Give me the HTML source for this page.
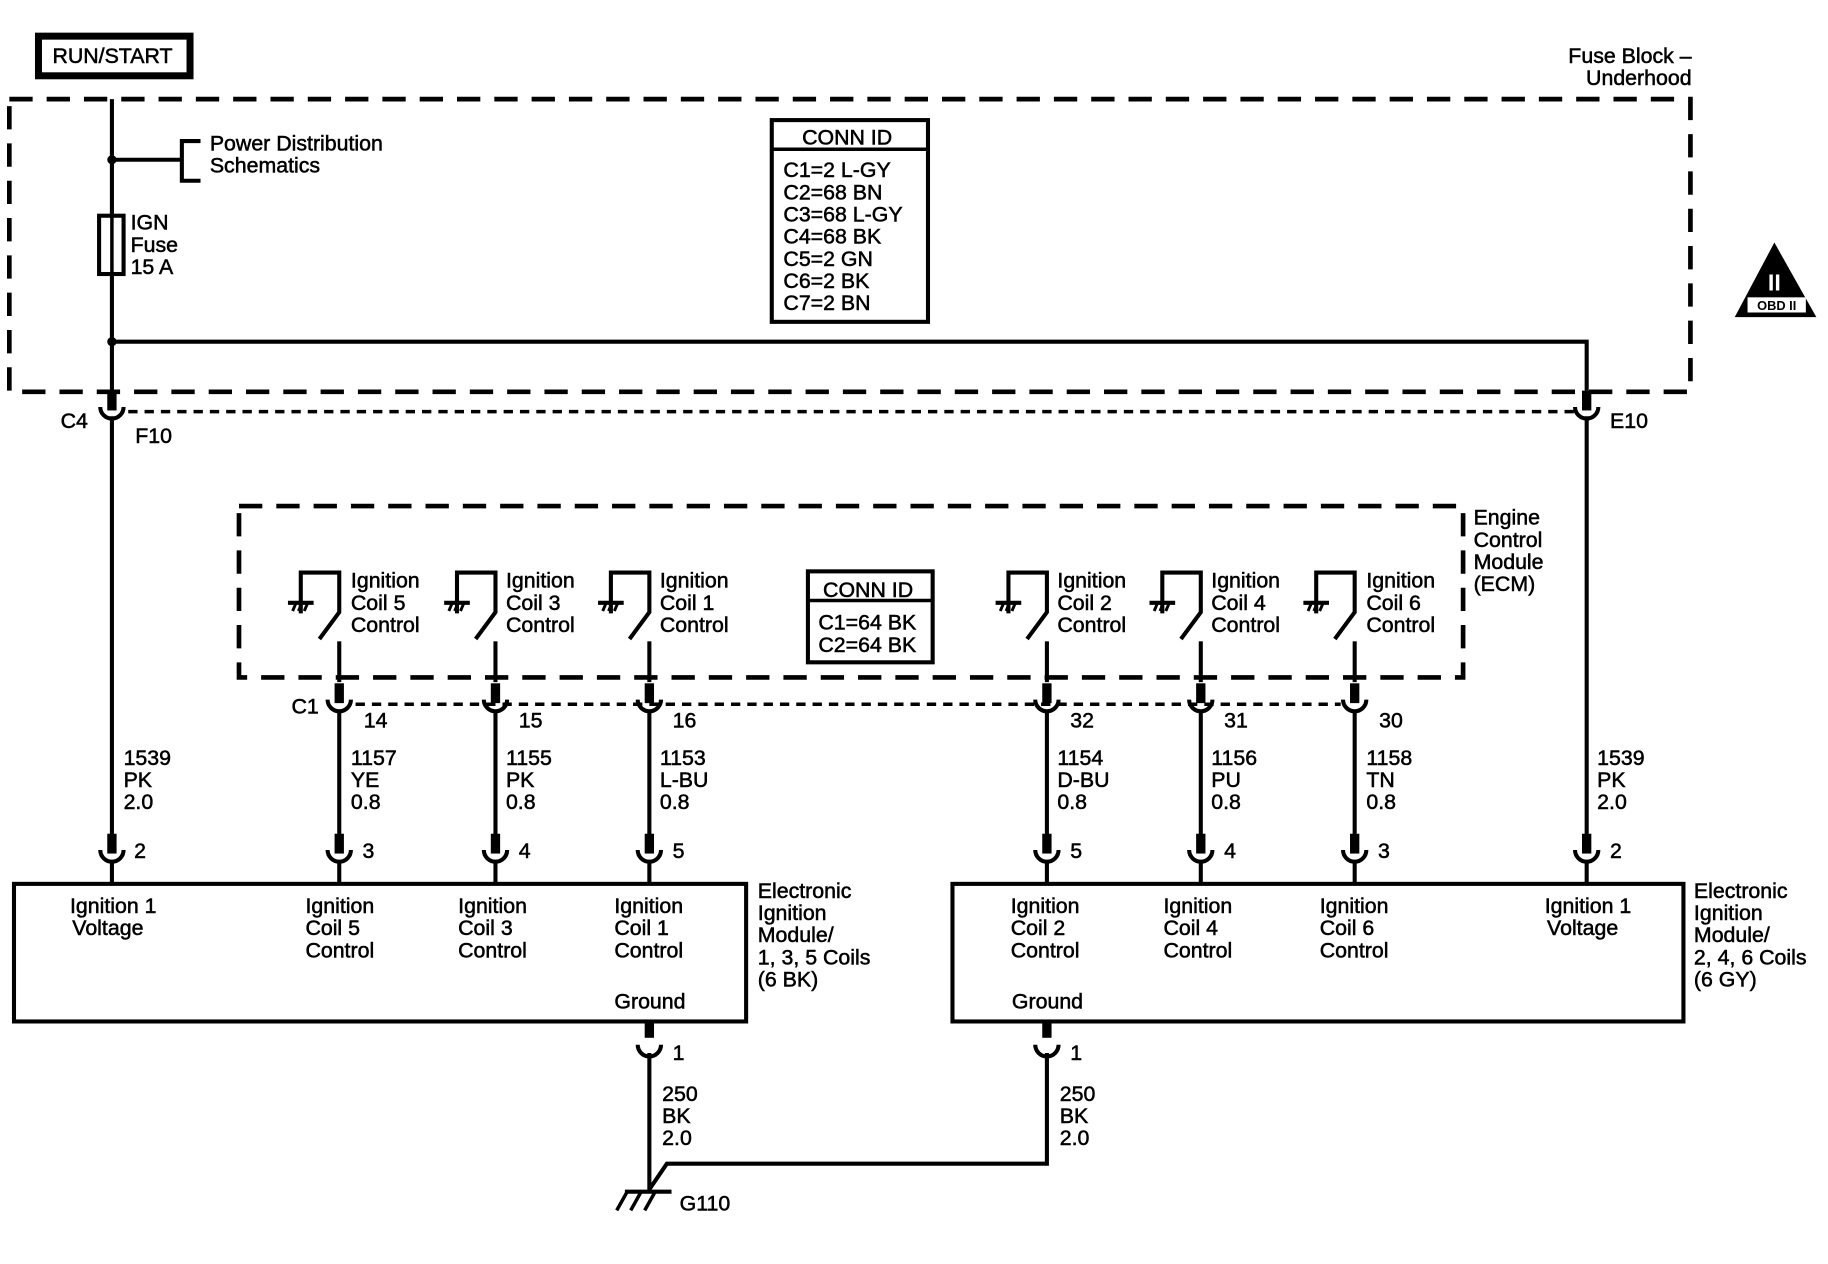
<!DOCTYPE html>
<html><head><meta charset="utf-8"><style>
html,body{margin:0;padding:0;background:#fff}
svg{display:block}
text{font-family:"Liberation Sans",Arial,sans-serif;font-size:18.3px;fill:#000;stroke:#000;stroke-width:0.45px}
</style></head><body>
<svg width="1828" height="1264" viewBox="0 0 1568 1084" preserveAspectRatio="none" xmlns="http://www.w3.org/2000/svg">
<defs>
<g id="cn"><line x1="0" y1="-14" x2="0" y2="3" stroke="#000" stroke-width="8"/><path d="M-10,0 A10,10 0 0 0 10,0" fill="none" stroke="#000" stroke-width="3.5"/></g>
<g id="sw" fill="none" stroke="#000" stroke-width="3.5"><path d="M-33,27 V-8 H0 V26 L-17,49"/><line x1="-44" y1="18" x2="-22" y2="18"/><path d="M-40,25 l3,-7 M-35,25 l3,-7 M-30,25 l3,-7" stroke-width="2.5"/></g>
</defs>
<g fill="none" stroke="#000">
<rect x="33" y="31" width="130" height="34" stroke-width="6"/>
<rect x="8" y="85" width="1442" height="251" stroke-width="4" stroke-dasharray="20,12"/>
<line x1="110" y1="353" x2="1350" y2="353" stroke-width="3" stroke-dasharray="8,6"/>
<line x1="96" y1="85" x2="96" y2="335" stroke-width="3.5"/>
<line x1="96" y1="357" x2="96" y2="722" stroke-width="3.5"/>
<line x1="96" y1="137" x2="156" y2="137" stroke-width="3.5"/>
<path d="M172,121 H156 V155 H172" stroke-width="3.5"/>
<rect x="85" y="185" width="21" height="50" stroke-width="3.5" fill="#fff"/>
<line x1="96" y1="185" x2="96" y2="235" stroke-width="3"/>
<path d="M96,293 H1361 V335" stroke-width="3.5"/>
<line x1="1361" y1="357" x2="1361" y2="722" stroke-width="3.5"/>
<rect x="662" y="103" width="134" height="173" stroke-width="3.5"/>
<line x1="662" y1="128" x2="796" y2="128" stroke-width="3"/>
<rect x="205" y="434" width="1050" height="147" stroke-width="4" stroke-dasharray="20,12"/>
<line x1="305" y1="604" x2="1150" y2="604" stroke-width="3" stroke-dasharray="8,6"/>
<rect x="693" y="490" width="107" height="78" stroke-width="3.5"/>
<line x1="693" y1="515" x2="800" y2="515" stroke-width="3"/>
<g stroke-width="3.5">
<line x1="291" y1="550" x2="291" y2="585"/><line x1="291" y1="609" x2="291" y2="722"/>
<line x1="425" y1="550" x2="425" y2="585"/><line x1="425" y1="609" x2="425" y2="722"/>
<line x1="557" y1="550" x2="557" y2="585"/><line x1="557" y1="609" x2="557" y2="722"/>
<line x1="898" y1="550" x2="898" y2="585"/><line x1="898" y1="609" x2="898" y2="722"/>
<line x1="1030" y1="550" x2="1030" y2="585"/><line x1="1030" y1="609" x2="1030" y2="722"/>
<line x1="1162" y1="550" x2="1162" y2="585"/><line x1="1162" y1="609" x2="1162" y2="722"/>
<line x1="96" y1="738" x2="96" y2="757"/><line x1="291" y1="738" x2="291" y2="757"/><line x1="425" y1="738" x2="425" y2="757"/><line x1="557" y1="738" x2="557" y2="757"/>
<line x1="898" y1="738" x2="898" y2="757"/><line x1="1030" y1="738" x2="1030" y2="757"/><line x1="1162" y1="738" x2="1162" y2="757"/><line x1="1361" y1="738" x2="1361" y2="757"/>
<line x1="557" y1="903" x2="557" y2="1022"/>
<path d="M898,903 V998 H572 L557,1020"/>
</g>
<rect x="12" y="758" width="628" height="118" stroke-width="3.5"/>
<rect x="817" y="758" width="627" height="118" stroke-width="3.5"/>
<line x1="557" y1="876" x2="557" y2="890" stroke-width="8"/>
<line x1="898" y1="876" x2="898" y2="890" stroke-width="8"/>
<line x1="536" y1="1022" x2="576" y2="1022" stroke-width="3.5"/>
<path d="M529,1038 l9,-16 M541,1038 l9,-16 M553,1038 l9,-16" stroke-width="3"/>
</g>
<g fill="#000"><circle cx="96" cy="137" r="4"/><circle cx="96" cy="293" r="4"/></g>
<use href="#cn" x="96" y="349"/><use href="#cn" x="1361" y="349"/>
<use href="#cn" x="291" y="600"/><use href="#cn" x="425" y="600"/><use href="#cn" x="557" y="600"/>
<use href="#cn" x="898" y="600"/><use href="#cn" x="1030" y="600"/><use href="#cn" x="1162" y="600"/>
<use href="#cn" x="96" y="729"/><use href="#cn" x="291" y="729"/><use href="#cn" x="425" y="729"/><use href="#cn" x="557" y="729"/>
<use href="#cn" x="898" y="729"/><use href="#cn" x="1030" y="729"/><use href="#cn" x="1162" y="729"/><use href="#cn" x="1361" y="729"/>
<g><path d="M547,896 A10,10 0 0 0 567,896" fill="none" stroke="#000" stroke-width="3.5"/><path d="M888,896 A10,10 0 0 0 908,896" fill="none" stroke="#000" stroke-width="3.5"/></g>
<use href="#sw" x="291" y="499"/><use href="#sw" x="425" y="499"/><use href="#sw" x="557" y="499"/>
<use href="#sw" x="898" y="499"/><use href="#sw" x="1030" y="499"/><use href="#sw" x="1162" y="499"/>
<polygon points="1522,208 1488,272 1558,272" fill="#000"/>
<rect x="1499" y="255" width="50" height="13" fill="#fff"/>
<text x="1524" y="266" text-anchor="middle" style="font-size:11px;font-weight:bold;stroke-width:0">OBD II</text>
<text x="1522" y="249" text-anchor="middle" style="font-size:20px;font-weight:bold;fill:#fff;stroke:#fff;stroke-width:0">II</text>
<text x="45" y="54">RUN/START</text>
<text x="1451" y="54" text-anchor="end">Fuse Block –</text>
<text x="1451" y="73" text-anchor="end">Underhood</text>
<text x="180" y="129">Power Distribution</text><text x="180" y="148">Schematics</text>
<text x="112" y="197">IGN</text><text x="112" y="216">Fuse</text><text x="112" y="235">15 A</text>
<text x="688" y="124">CONN ID</text>
<text x="672" y="152">C1=2 L-GY</text><text x="672" y="171">C2=68 BN</text><text x="672" y="190">C3=68 L-GY</text><text x="672" y="209">C4=68 BK</text><text x="672" y="228">C5=2 GN</text><text x="672" y="247">C6=2 BK</text><text x="672" y="266">C7=2 BN</text>
<text x="52" y="367">C4</text><text x="116" y="380">F10</text><text x="1381" y="367">E10</text>
<text x="1264" y="450">Engine</text><text x="1264" y="469">Control</text><text x="1264" y="488">Module</text><text x="1264" y="507">(ECM)</text>
<text x="706" y="512">CONN ID</text><text x="702" y="540">C1=64 BK</text><text x="702" y="559">C2=64 BK</text>
<g>
<text x="301" y="504">Ignition</text><text x="301" y="523">Coil 5</text><text x="301" y="542">Control</text>
<text x="434" y="504">Ignition</text><text x="434" y="523">Coil 3</text><text x="434" y="542">Control</text>
<text x="566" y="504">Ignition</text><text x="566" y="523">Coil 1</text><text x="566" y="542">Control</text>
<text x="907" y="504">Ignition</text><text x="907" y="523">Coil 2</text><text x="907" y="542">Control</text>
<text x="1039" y="504">Ignition</text><text x="1039" y="523">Coil 4</text><text x="1039" y="542">Control</text>
<text x="1172" y="504">Ignition</text><text x="1172" y="523">Coil 6</text><text x="1172" y="542">Control</text>
</g>
<text x="250" y="612">C1</text>
<text x="312" y="624">14</text><text x="445" y="624">15</text><text x="577" y="624">16</text><text x="918" y="624">32</text><text x="1050" y="624">31</text><text x="1183" y="624">30</text>
<text x="106" y="656">1539</text><text x="106" y="675">PK</text><text x="106" y="694">2.0</text>
<text x="301" y="656">1157</text><text x="301" y="675">YE</text><text x="301" y="694">0.8</text>
<text x="434" y="656">1155</text><text x="434" y="675">PK</text><text x="434" y="694">0.8</text>
<text x="566" y="656">1153</text><text x="566" y="675">L-BU</text><text x="566" y="694">0.8</text>
<text x="907" y="656">1154</text><text x="907" y="675">D-BU</text><text x="907" y="694">0.8</text>
<text x="1039" y="656">1156</text><text x="1039" y="675">PU</text><text x="1039" y="694">0.8</text>
<text x="1172" y="656">1158</text><text x="1172" y="675">TN</text><text x="1172" y="694">0.8</text>
<text x="1370" y="656">1539</text><text x="1370" y="675">PK</text><text x="1370" y="694">2.0</text>
<text x="115" y="736">2</text><text x="311" y="736">3</text><text x="445" y="736">4</text><text x="577" y="736">5</text>
<text x="918" y="736">5</text><text x="1050" y="736">4</text><text x="1182" y="736">3</text><text x="1381" y="736">2</text>
<text x="60" y="783">Ignition 1</text><text x="62" y="802">Voltage</text>
<text x="262" y="783">Ignition</text><text x="262" y="802">Coil 5</text><text x="262" y="821">Control</text>
<text x="393" y="783">Ignition</text><text x="393" y="802">Coil 3</text><text x="393" y="821">Control</text>
<text x="527" y="783">Ignition</text><text x="527" y="802">Coil 1</text><text x="527" y="821">Control</text>
<text x="527" y="865">Ground</text>
<text x="650" y="770">Electronic</text><text x="650" y="789">Ignition</text><text x="650" y="808">Module/</text><text x="650" y="827">1, 3, 5 Coils</text><text x="650" y="846">(6 BK)</text>
<text x="867" y="783">Ignition</text><text x="867" y="802">Coil 2</text><text x="867" y="821">Control</text>
<text x="998" y="783">Ignition</text><text x="998" y="802">Coil 4</text><text x="998" y="821">Control</text>
<text x="1132" y="783">Ignition</text><text x="1132" y="802">Coil 6</text><text x="1132" y="821">Control</text>
<text x="1325" y="783">Ignition 1</text><text x="1327" y="802">Voltage</text>
<text x="868" y="865">Ground</text>
<text x="1453" y="770">Electronic</text><text x="1453" y="789">Ignition</text><text x="1453" y="808">Module/</text><text x="1453" y="827">2, 4, 6 Coils</text><text x="1453" y="846">(6 GY)</text>
<text x="577" y="909">1</text><text x="918" y="909">1</text>
<text x="568" y="944">250</text><text x="568" y="963">BK</text><text x="568" y="982">2.0</text>
<text x="909" y="944">250</text><text x="909" y="963">BK</text><text x="909" y="982">2.0</text>
<text x="583" y="1038">G110</text>
</svg>
</body></html>
